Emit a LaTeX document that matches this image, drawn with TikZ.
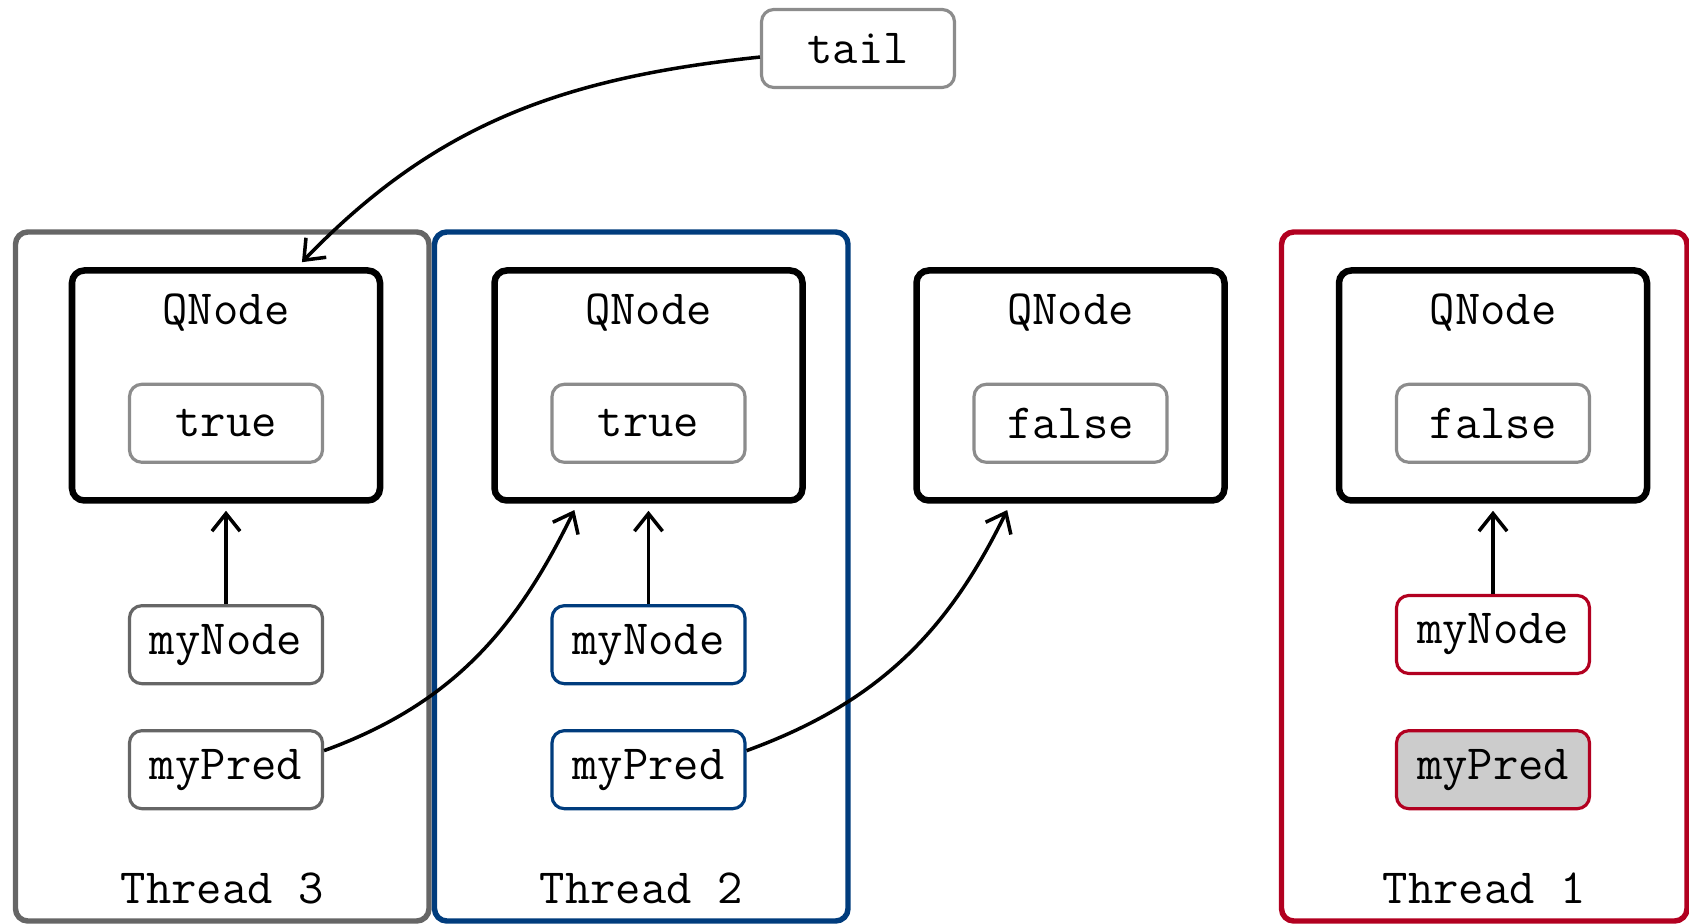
\documentclass[tikz,border=0pt]{standalone}
\usepackage{fontspec}
\usepackage{tikz}
\usetikzlibrary{arrows.meta}
\definecolor{ThreeGray}{RGB}{102,102,102}
\definecolor{TwoBlue}{RGB}{0,60,125}
\definecolor{OneRed}{RGB}{178,0,32}
\definecolor{BoxGray}{RGB}{140,140,140}
\definecolor{PredFill}{RGB}{204,204,204}

\begin{document}
\begin{tikzpicture}[
		font=\ttfamily\fontsize{14}{16}\selectfont,
		>={Straight Barb[length=5pt,width=8pt]},
		thread/.style={draw, rounded corners=3.5pt, line width=1.55pt, minimum height=6.89cm, inner sep=0pt},
		qnode/.style={draw=black, rounded corners=3.5pt, line width=1.85pt, minimum width=3.08cm, minimum height=2.3cm, inner sep=0pt},
		var/.style={draw=BoxGray, fill=white, rounded corners=3.5pt, line width=0.9pt, minimum width=1.93cm, minimum height=0.78cm, inner sep=0pt},
		ptr/.style={->, line width=1pt, shorten >=2pt}
		]
		\useasboundingbox (0,0) rectangle (16.89,9.24);
		
		% 线程框
		\node[thread, draw=ThreeGray, minimum width=4.135cm] (t3) at (2.2225,3.475) {};
		\node[thread, draw=TwoBlue, minimum width=4.135cm] (t2) at (6.4125,3.475) {};
		\node[thread, draw=OneRed, minimum width=4.055cm] (t1) at (14.8425,3.475) {};
		\node (t3lab) at (2.2225,0.353) {Thread 3};
		\node (t2lab) at (6.4125,0.353) {Thread 2};
		\node (t1lab) at (14.8425,0.353) {Thread 1};
		
		% QNode
		\node[qnode] (q3) at (2.26,5.385) {};
		\node[qnode] (q2) at (6.485,5.385) {};
		\node[qnode] (qm) at (10.705,5.385) {};
		\node[qnode] (q1) at (14.93,5.385) {};
		\node (q3lab) at (2.26,6.116) {QNode};
		\node (q2lab) at (6.485,6.116) {QNode};
		\node (qmlab) at (10.705,6.116) {QNode};
		\node (q1lab) at (14.93,6.116) {QNode};
		
		% locked 值
		\node[var] (v3) at (2.26,5.007) {true};
		\node[var] (v2) at (6.485,5.007) {true};
		\node[var] (vm) at (10.705,5.007) {false};
		\node[var] (v1) at (14.93,5.007) {false};
		
		% 局部变量
		\node[var, draw=ThreeGray] (n3) at (2.26,2.793) {myNode};
		\node[var, draw=ThreeGray] (p3) at (2.26,1.543) {myPred};
		\node[var, draw=TwoBlue] (n2) at (6.485,2.793) {myNode};
		\node[var, draw=TwoBlue] (p2) at (6.485,1.543) {myPred};
		\node[var, draw=OneRed] (n1) at (14.93,2.895) {myNode};
		\node[var, draw=OneRed, fill=PredFill] (p1) at (14.93,1.543) {myPred};
		
		% tail
		\node[var] (tail) at (8.58,8.755) {tail};
		
		% 指针
		\draw[ptr] (tail.185) to[out=186, in=46] (q3.59);
		\draw[ptr] (n3.north) -- (q3.south);
		\draw[ptr] (n2.north) -- (q2.south);
		\draw[ptr] (n1.north) -- (q1.south);
		\draw[ptr] (p3.11) to[out=20, in=244] (q2.239);
		\draw[ptr] (p2.11) to[out=20, in=244] (qm.243);
	\end{tikzpicture}
\end{document}
